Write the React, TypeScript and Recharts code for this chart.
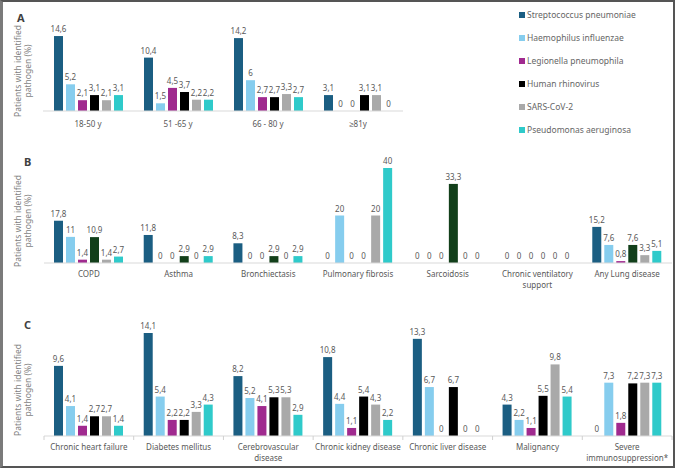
import { Bar, BarChart, XAxis, YAxis } from "recharts";

// Pathogens in legend order
const PATHOGENS = [
  "Streptococcus pneumoniae",
  "Haemophilus influenzae",
  "Legionella pneumophila",
  "Human rhinovirus",
  "SARS-CoV-2",
  "Pseudomonas aeruginosa",
];
const COLORS = ["#1b5e82", "#86cdee", "#a02a8f", "#000000", "#a9a9a9", "#2fcaca"];
// panel B draws rhinovirus in dark green
const COLORS_B = ["#1b5e82", "#86cdee", "#a02a8f", "#123f1a", "#a9a9a9", "#2fcaca"];

// A: age groups
const AGE_GROUPS = ["18-50 y", "51 -65 y", "66 - 80 y", "≥81y"];
const AGE_VALUES = [
  [14.6, 10.4, 14.2, 3.1],
  [5.2, 1.5, 6, 0],
  [2.1, 4.5, 2.7, 0],
  [3.1, 3.7, 2.7, 3.1],
  [2.1, 2.2, 3.3, 3.1],
  [3.1, 2.2, 2.7, 0],
];

// B: chronic lung disease
const LUNG_GROUPS = [
  "COPD",
  "Asthma",
  "Bronchiectasis",
  "Pulmonary fibrosis",
  "Sarcoidosis",
  "Chronic ventilatory\nsupport",
  "Any Lung disease",
];
const LUNG_VALUES = [
  [17.8, 11.8, 8.3, 0, 0, 0, 15.2],
  [11, 0, 0, 20, 0, 0, 7.6],
  [1.4, 0, 0, 0, 0, 0, 0.8],
  [10.9, 2.9, 2.9, 0, 33.3, 0, 7.6],
  [1.4, 0, 0, 20, 0, 0, 3.3],
  [2.7, 2.9, 2.9, 40, 0, 0, 5.1],
];

// C: other comorbidities
const COMORB_GROUPS = [
  "Chronic heart failure",
  "Diabetes mellitus",
  "Cerebrovascular\ndisease",
  "Chronic kidney disease",
  "Chronic liver disease",
  "Malignancy",
  "Severe\nimmunosuppression*",
];
const COMORB_VALUES = [
  [9.6, 14.1, 8.2, 10.8, 13.3, 4.3, 0],
  [4.1, 5.4, 5.2, 4.4, 6.7, 2.2, 7.3],
  [1.4, 2.2, 4.1, 1.1, 0, 1.1, 1.8],
  [2.7, 2.2, 5.3, 5.4, 6.7, 5.5, 7.2],
  [2.7, 3.3, 5.3, 4.3, 0, 9.8, 7.3],
  [1.4, 4.3, 2.9, 2.2, 0, 5.4, 7.3],
];

const FONT = "'Noto Sans', sans-serif";
const TEXT = "#595959";

function toRows(cats: string[], values: number[][]) {
  return cats.map((cat, i) => {
    const row: Record<string, string | number> = { cat };
    values.forEach((s, k) => {
      row[`s${k}`] = s[i];
    });
    return row;
  });
}

const comma = (v: unknown) => String(v).replace(".", ",");

// bar plus its value label; zero bars still get their "0"
function LabelledBar(props: any) {
  const { x, y, width, height, fill, value } = props;
  const v = Array.isArray(value) ? value[1] - value[0] : value;
  return (
    <g>
      {height > 0 && <rect x={x} y={y} width={width} height={height} fill={fill} />}
      <text
        x={x + width / 2}
        y={y - 4}
        textAnchor="middle"
        fontSize={8}
        fill={TEXT}
        fontFamily={FONT}
      >
        {comma(v)}
      </text>
    </g>
  );
}

function CategoryTick(props: any) {
  const { x, y, payload, index, visibleTicksCount, dropY, band, edges } = props;
  const lines = String(payload.value).split("\n");
  return (
    <g>
      {edges && (
        <line x1={x - band / 2} x2={x - band / 2} y1={y} y2={y + 4} stroke="#d0d0d0" />
      )}
      {edges && index === visibleTicksCount - 1 && (
        <line x1={x + band / 2} x2={x + band / 2} y1={y} y2={y + 4} stroke="#d0d0d0" />
      )}
      <text x={x} y={y + dropY} textAnchor="middle" fontSize={8} fill={TEXT} fontFamily={FONT}>
        {lines.map((l, i) => (
          <tspan key={i} x={x} dy={i === 0 ? 0 : 10.5}>
            {l}
          </tspan>
        ))}
      </text>
    </g>
  );
}

interface PanelProps {
  cats: string[];
  values: number[][];
  colors: string[];
  width: number;
  height: number;
  top: number;
  margin: { top: number; right: number; left: number; bottom: number };
  axisHeight: number;
  yMax: number;
  dropY: number;
  edges?: boolean;
}

function Panel({ cats, values, colors, width, height, top, margin, axisHeight, yMax, dropY, edges }: PanelProps) {
  const data = toRows(cats, values);
  const band = (width - margin.left - margin.right) / cats.length;
  return (
    <div style={{ position: "absolute", left: 0, top }}>
      <BarChart width={width} height={height} data={data} margin={margin} barGap={3}>
        <XAxis
          dataKey="cat"
          height={axisHeight}
          axisLine={{ stroke: "#d9d9d9" }}
          tickLine={false}
          tickSize={0}
          tickMargin={0}
          interval={0}
          tick={<CategoryTick dropY={dropY} band={band} edges={edges} />}
        />
        <YAxis hide type="number" domain={[0, yMax]} />
        {values.map((_, k) => (
          <Bar
            key={k}
            dataKey={`s${k}`}
            fill={colors[k]}
            barSize={9}
            shape={<LabelledBar />}
            isAnimationActive={false}
          />
        ))}
      </BarChart>
    </div>
  );
}

function AxisTitle({ cy }: { cy: number }) {
  const w = 110;
  const h = 22;
  return (
    <div
      style={{
        position: "absolute",
        left: 24 - w / 2,
        top: cy - h / 2,
        width: w,
        height: h,
        transform: "rotate(-90deg)",
        textAlign: "center",
        fontSize: 8.5,
        lineHeight: "10px",
        color: "#7f7f7f",
        fontFamily: FONT,
      }}
    >
      Patients with identified
      <br />
      pathogen (%)
    </div>
  );
}

function PanelLetter({ x, y, text }: { x: number; y: number; text: string }) {
  return (
    <div
      style={{
        position: "absolute",
        left: x,
        top: y,
        fontSize: 11,
        fontWeight: 700,
        color: "#404040",
        fontFamily: FONT,
        lineHeight: "12px",
      }}
    >
      {text}
    </div>
  );
}

function Legend() {
  return (
    <div style={{ position: "absolute", left: 519, top: 3 }}>
      {PATHOGENS.map((p, i) => (
        <div
          key={p}
          style={{
            display: "flex",
            alignItems: "center",
            height: 23,
            fontSize: 8.5,
            color: "#666",
            fontFamily: FONT,
          }}
        >
          <span style={{ width: 6, height: 6, background: COLORS[i], marginRight: 2, display: "inline-block" }} />
          {p}
        </div>
      ))}
    </div>
  );
}

export default function App() {
  return (
    <div style={{ position: "relative", width: 676, height: 469, background: "#fff", overflow: "hidden" }}>
      <style>{`body{margin:0}`}</style>
      <div
        style={{
          position: "absolute",
          left: 0,
          top: 0,
          width: 675,
          height: 468,
          boxSizing: "border-box",
          border: "2px solid #555",
          borderLeft: "3px solid #7a7a7a",
        }}
      />
      <Panel
        cats={AGE_GROUPS}
        values={AGE_VALUES}
        colors={COLORS}
        width={420}
        height={140}
        top={0}
        margin={{ top: 34, right: 17, left: 43, bottom: 0 }}
        axisHeight={29}
        yMax={15}
        dropY={16}
      />
      <Panel
        cats={LUNG_GROUPS}
        values={LUNG_VALUES}
        colors={COLORS_B}
        width={676}
        height={150}
        top={140}
        margin={{ top: 28, right: 4, left: 44, bottom: 0 }}
        axisHeight={27}
        yMax={40}
        dropY={14}
      />
      <Panel
        cats={COMORB_GROUPS}
        values={COMORB_VALUES}
        colors={COLORS}
        width={676}
        height={179}
        top={290}
        margin={{ top: 43, right: 4, left: 44, bottom: 0 }}
        axisHeight={33}
        yMax={14.1}
        dropY={14}
        edges
      />
      <Legend />
      <PanelLetter x={17} y={12} text="A" />
      <PanelLetter x={24} y={156} text="B" />
      <PanelLetter x={24} y={319} text="C" />
      <AxisTitle cy={71} />
      <AxisTitle cy={221} />
      <AxisTitle cy={390} />
    </div>
  );
}
